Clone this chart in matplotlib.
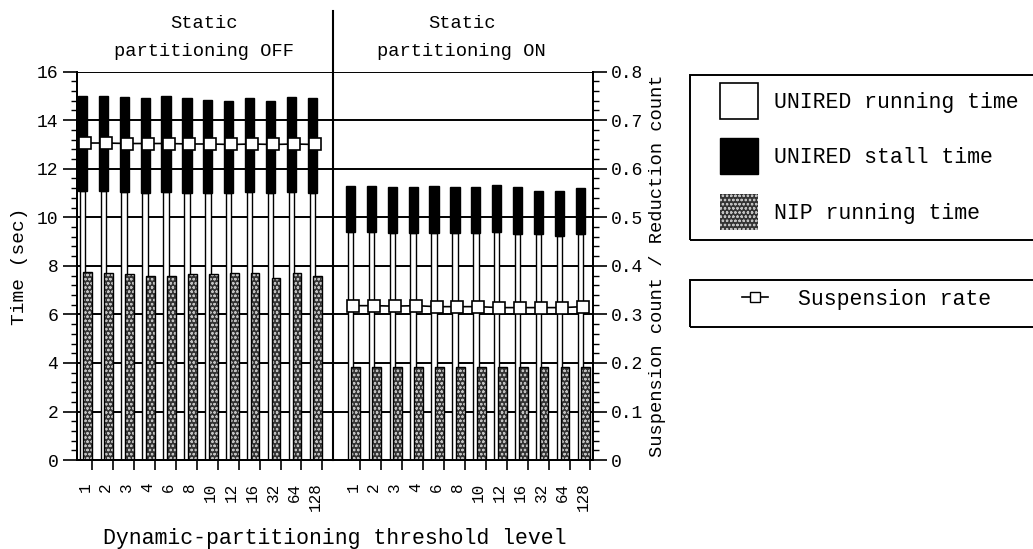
import numpy as np
import matplotlib.pyplot as plt
from matplotlib.patches import Patch, Rectangle
from matplotlib.lines import Line2D
from matplotlib.ticker import MultipleLocator

plt.rcParams['font.family'] = ['Liberation Mono', 'DejaVu Sans Mono']
plt.rcParams['hatch.linewidth'] = 0.6

thresholds = ['1', '2', '3', '4', '6', '8', '10', '12', '16', '32', '64', '128']

# Static partitioning OFF
off_nip = [7.75, 7.7, 7.65, 7.6, 7.6, 7.65, 7.65, 7.7, 7.7, 7.5, 7.7, 7.6]
off_run = [11.1, 11.1, 11.05, 11.0, 11.05, 11.0, 11.0, 11.0, 11.05, 11.0, 11.05, 11.0]
off_total = [15.0, 15.0, 14.95, 14.9, 15.0, 14.9, 14.85, 14.8, 14.9, 14.8, 14.95, 14.9]
off_susp = [0.653, 0.653, 0.652, 0.652, 0.652, 0.651, 0.651, 0.650, 0.651, 0.650, 0.651, 0.650]

# Static partitioning ON
on_nip = [3.85, 3.85, 3.85, 3.85, 3.85, 3.85, 3.85, 3.85, 3.85, 3.85, 3.85, 3.85]
on_run = [9.4, 9.4, 9.35, 9.35, 9.35, 9.35, 9.35, 9.4, 9.3, 9.3, 9.25, 9.3]
on_total = [11.3, 11.3, 11.25, 11.25, 11.3, 11.25, 11.25, 11.35, 11.25, 11.1, 11.1, 11.2]
on_susp = [0.318, 0.318, 0.317, 0.318, 0.316, 0.316, 0.316, 0.314, 0.314, 0.314, 0.314, 0.316]

n = len(thresholds)
x_off = np.arange(n)
x_on = np.arange(n) + 12.82
divider = 11.87

W, H = 1033, 549
fig = plt.figure(figsize=(10.33, 5.49), dpi=100)
ax = fig.add_axes([0.0745, 0.162, 0.4995, 0.7075])
ax2 = ax.twinx()

def draw_group(xs, nip, run, total):
    run = np.array(run); total = np.array(total)
    xu = xs - 0.12
    xn = xs + 0.14
    ax.bar(xu, run, width=0.26, color='white', edgecolor='black', linewidth=1.0, zorder=3)
    ax.bar(xu, total - run, bottom=run, width=0.44, color='black', edgecolor='black', linewidth=1.0, zorder=3)
    ax.bar(xn, nip, width=0.42, color='#333333', edgecolor='#c0c0c0', hatch='oooo', linewidth=0, zorder=4)
    ax.bar(xn, nip, width=0.42, fill=False, edgecolor='black', linewidth=1.0, zorder=4)

draw_group(x_off, off_nip, off_run, off_total)
draw_group(x_on, on_nip, on_run, on_total)

ax.set_xlim(-0.38, 24.3)
ax.set_ylim(0, 16)
ax2.set_ylim(0, 0.8)

for yv in np.arange(2, 17, 2):
    ax.axhline(yv, color='black', linewidth=1.4, zorder=2)

ax.plot([divider, divider], [0, 18.5], color='black', linewidth=1.5, clip_on=False, zorder=5)

for xs, s in [(x_off, off_susp), (x_on, on_susp)]:
    ax2.plot(xs, s, color='black', linewidth=1.2, marker='s', markersize=8,
             markerfacecolor='white', markeredgecolor='black', markeredgewidth=1.2, zorder=6)

ax.yaxis.set_major_locator(MultipleLocator(2))
ax.yaxis.set_minor_locator(MultipleLocator(0.4))
ax2.yaxis.set_minor_locator(MultipleLocator(0.02))
ax2.set_yticks(np.arange(0, 0.81, 0.1))
ax2.set_yticklabels(['0'] + ['%.1f' % v for v in np.arange(0.1, 0.81, 0.1)])

allx = np.concatenate([x_off, x_on])
ax.set_xticks(allx)
ax.set_xticklabels(thresholds + thresholds, rotation=90, fontsize=11.5)
ax.set_xticks(allx + 0.36, minor=True)
ax.tick_params(axis='x', which='major', length=0, pad=16)
ax.tick_params(axis='x', which='minor', length=7, width=1.2, direction='out')
ax.tick_params(axis='y', which='major', length=10, width=1.2, labelsize=13)
ax.tick_params(axis='y', which='minor', length=4, width=1.0)
ax2.tick_params(axis='y', which='major', length=10, width=1.2, labelsize=13, pad=3)
ax2.tick_params(axis='y', which='minor', length=4, width=1.0)

for a in (ax, ax2):
    for sp in a.spines.values():
        sp.set_linewidth(1.4)
ax.spines['top'].set_visible(False)
ax2.spines['top'].set_visible(False)

ax.set_ylabel('Time (sec)', fontsize=14, labelpad=6)
ax2.set_ylabel('Suspension count / Reduction count', fontsize=13.5, labelpad=4)
ax.set_xlabel('Dynamic-partitioning threshold level', fontsize=15.5, labelpad=12)

ax.text((x_off[0] + x_off[-1]) / 2 + 0.2, 17.4, 'Static\npartitioning OFF', ha='center', va='center',
        fontsize=13.5, linespacing=1.85)
ax.text((x_on[0] + x_on[-1]) / 2 - 0.3, 17.4, 'Static\npartitioning ON', ha='center', va='center',
        fontsize=13.5, linespacing=1.85)

# legend frames (run off the right edge as in the scan)
for top, bot in [(75, 240), (280, 327)]:
    fig.patches.append(Rectangle((690 / W, 1 - bot / H), 360 / W, (bot - top) / H,
                                 transform=fig.transFigure, fill=False, edgecolor='black',
                                 linewidth=1.4, clip_on=False))

h1 = [Patch(facecolor='white', edgecolor='black', linewidth=1.2),
      Patch(facecolor='black', edgecolor='black'),
      Patch(facecolor='#333333', edgecolor='#c0c0c0', hatch='oooo', linewidth=0)]
leg1 = fig.legend(h1, ['UNIRED running time', 'UNIRED stall time', 'NIP running time'],
                  loc='upper left', bbox_to_anchor=(720 / W, 1 - 83 / H), fontsize=15.5,
                  handlelength=1.75, handleheight=2.2, labelspacing=0.9, handletextpad=0.75,
                  frameon=False, borderpad=0, borderaxespad=0)

h2 = [Line2D([0], [0], color='black', linewidth=1.2, marker='s', markersize=7,
             markerfacecolor='white', markeredgecolor='black')]
leg2 = fig.legend(h2, ['Suspension rate'], loc='upper left', bbox_to_anchor=(742 / W, 1 - 289 / H),
                  fontsize=15.5, handlelength=1.2, handletextpad=1.4, frameon=False,
                  borderpad=0, borderaxespad=0)

fig.savefig('out.png', dpi=100)
